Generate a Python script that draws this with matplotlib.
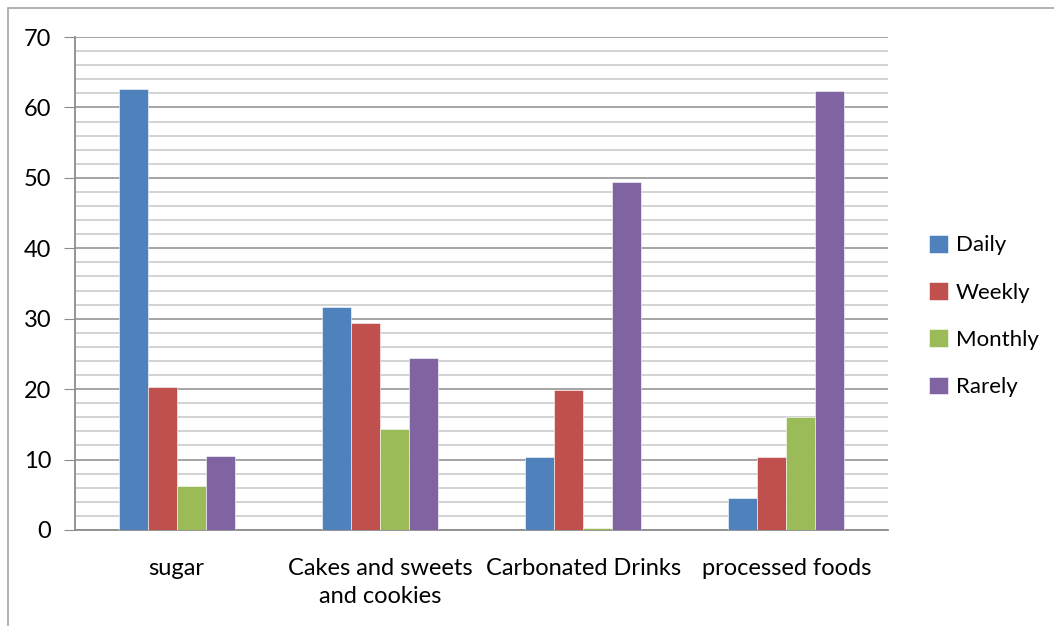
import numpy as np
import matplotlib
matplotlib.use('Agg')
import matplotlib.pyplot as plt
from matplotlib.patches import Rectangle

plt.rcParams['font.family'] = ['Lato', 'DejaVu Sans']

categories = ['sugar', 'Cakes and sweets\nand cookies', 'Carbonated Drinks', 'processed foods']
series = ['Daily', 'Weekly', 'Monthly', 'Rarely']
daily = [62.6, 31.7, 10.3, 4.6]
weekly = [20.3, 29.4, 19.9, 10.3]
monthly = [6.3, 14.4, 0.25, 16.0]
rarely = [10.5, 24.4, 49.4, 62.4]
colors = ['#4F81BD', '#C0504D', '#9BBB59', '#8064A2']

fig = plt.figure(figsize=(10.54, 6.26), dpi=100)
ax = fig.add_axes([75 / 1054, 1 - 530 / 626, 813 / 1054, 493 / 626])

# chart-area border
fig.patches.append(Rectangle((8 / 1054, -0.1), 1.2, 1 - 8 / 626 + 0.1, transform=fig.transFigure,
                             fill=False, ec='#A6A6A6', lw=1.2, clip_on=False))

x = np.arange(len(categories))
w = 1 / 7
for i, (vals, c, name) in enumerate(zip([daily, weekly, monthly, rarely], colors, series)):
    ax.bar(x + (i - 1.5) * w, vals, w, color=c, label=name, zorder=3,
           edgecolor='white', linewidth=0.4)

ax.set_xlim(-0.5, len(categories) - 0.5)
ax.set_ylim(0, 70)
ax.set_yticks(np.arange(0, 71, 10))
ax.set_yticks(np.arange(0, 71, 2), minor=True)
ax.grid(axis='y', which='major', color='#8C8C8C', lw=1.1, zorder=0)
ax.grid(axis='y', which='minor', color='#C8C8C8', lw=1.1, zorder=0)
ax.tick_params(axis='y', which='major', length=8, color='#8C8C8C', labelsize=17, pad=9)
ax.tick_params(axis='y', which='minor', length=0)
ax.set_xticks(x)
ax.set_xticklabels(categories, fontsize=17, linespacing=1.4)
ax.tick_params(axis='x', length=0, pad=20)
for s in ['top', 'right']:
    ax.spines[s].set_visible(False)
for s in ['left', 'bottom']:
    ax.spines[s].set_color('#8C8C8C')
    ax.spines[s].set_linewidth(1.3)

fig.legend(loc='center left', bbox_to_anchor=(929 / 1054, 1 - 316 / 626), frameon=False,
           fontsize=16, handlelength=0.85, handleheight=0.85, handletextpad=0.35,
           labelspacing=1.2, borderpad=0, borderaxespad=0)

fig.savefig('out.png', dpi=100)
